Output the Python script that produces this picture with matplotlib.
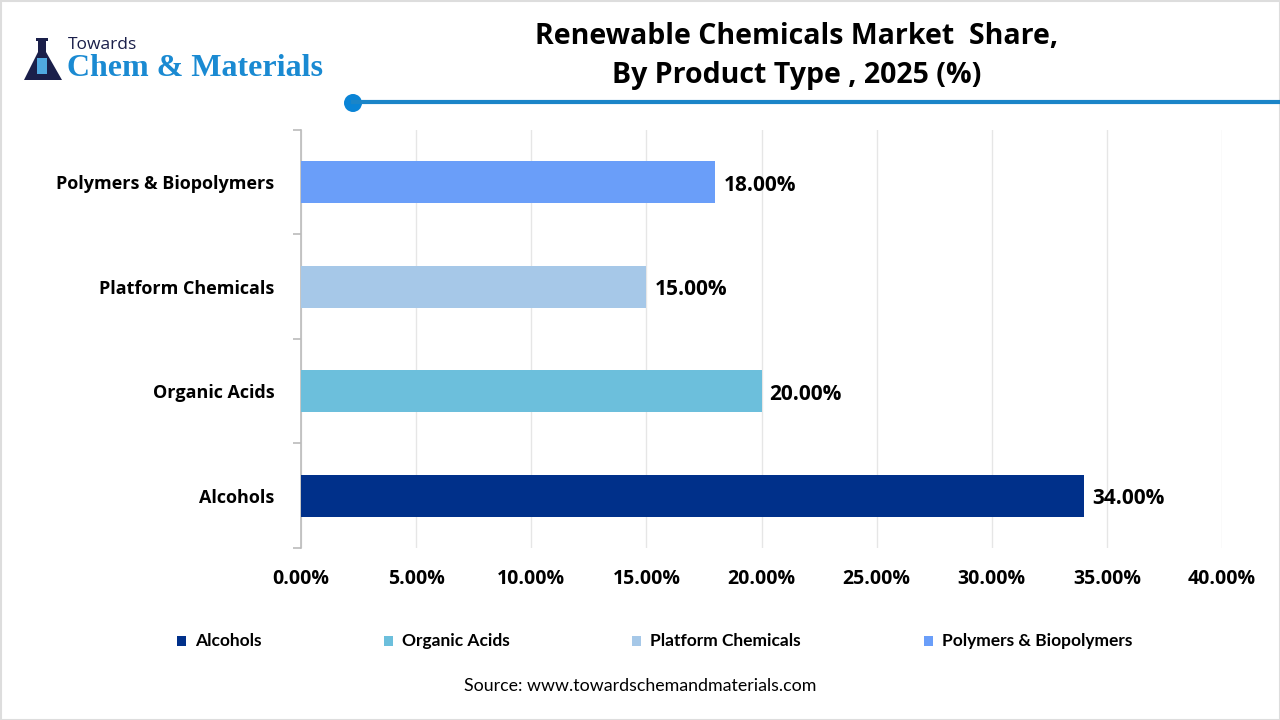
import matplotlib
matplotlib.use("Agg")
import matplotlib.pyplot as plt
from matplotlib.patches import Rectangle, Ellipse, Polygon
from matplotlib.lines import Line2D

categories = ["Alcohols", "Organic Acids", "Platform Chemicals", "Polymers & Biopolymers"]
values = [34.0, 20.0, 15.0, 18.0]
colors = ["#00308A", "#6CBFDC", "#A6C8E8", "#6A9EF9"]
xticks = [0, 5, 10, 15, 20, 25, 30, 35, 40]

fig = plt.figure(figsize=(12.8, 7.2), dpi=100)
fig.patch.set_facecolor("white")

ax = fig.add_axes([301/1280, 1-548/720, (1222-301)/1280, (548-130)/720])
ypos = list(range(len(categories)))
ax.barh(ypos, values, height=0.4, color=colors, zorder=3)
ax.set_xlim(0, 40)
ax.set_ylim(-0.5, len(categories)-0.5)
ax.set_xticks(xticks)
ax.set_xticklabels([f"{v:.2f}%" for v in xticks], fontsize=14, fontweight="bold",
                   family="Open Sans", color="black")
ax.set_yticks(ypos)
ax.set_yticklabels(categories, fontsize=13, fontweight="bold", family="Open Sans", color="black")
ax.tick_params(axis="y", which="major", length=0, pad=19)
ax.tick_params(axis="x", length=0, pad=15)
ax.set_yticks([y - 0.5 for y in range(len(categories)+1)], minor=True)
ax.tick_params(axis="y", which="minor", length=6, color="#BBBBBB", width=1.2)
ax.grid(axis="x", color="#E6E6E6", linewidth=1, zorder=0)
for s in ["top", "right", "bottom"]:
    ax.spines[s].set_visible(False)
ax.spines["left"].set_color("#BBBBBB")
ax.spines["left"].set_linewidth(1.2)
for y, v in zip(ypos, values):
    ax.text(v + 0.35, y - 0.03, f"{v:.2f}%", va="center", ha="left", fontsize=15,
            fontweight="bold", family="Open Sans", color="black")

# Title
fig.text(797/1280, 1-36/720, "Renewable Chemicals Market  Share,", ha="center", va="center",
         fontsize=20.5, fontweight="bold", family="Open Sans", color="black")
fig.text(797/1280, 1-75/720, "By Product Type , 2025 (%)", ha="center", va="center",
         fontsize=20.5, fontweight="bold", family="Open Sans", color="black")

# header line with dot
fig.add_artist(Line2D([353/1280, 1.0], [1-102/720, 1-102/720], color="#1B85C8", linewidth=3))
fig.add_artist(Ellipse((353/1280, 1-103/720), 18/1280, 18/720, transform=fig.transFigure,
                       facecolor="#0A84D6", edgecolor="none"))

# Logo
fig.text(68/1280, 1-45/720, "Towards", ha="left", va="center", fontsize=12.5,
         family="Open Sans", color="#1A1F4A")
fig.text(67/1280, 1-69/720, "Chem & Materials", ha="left", va="center", fontsize=23,
         fontweight="bold", family="Liberation Serif", color="#1A8AD2")
fig.add_artist(Polygon([(38/1280, 1-52/720), (46/1280, 1-52/720), (62/1280, 1-80/720),
                        (24/1280, 1-80/720)], closed=True, transform=fig.transFigure,
                       facecolor="#1A1F4A", edgecolor="none"))
fig.add_artist(Rectangle((38/1280, 1-52/720), 8/1280, 12/720, transform=fig.transFigure,
                         facecolor="#1A1F4A", edgecolor="none"))
fig.add_artist(Rectangle((36/1280, 1-41/720), 12/1280, 3/720, transform=fig.transFigure,
                         facecolor="#1A1F4A", edgecolor="none"))
fig.add_artist(Rectangle((37/1280, 1-74/720), 10/1280, 16/720, transform=fig.transFigure,
                         facecolor="#4FA8E0", edgecolor="none"))

# Legend
leg_x = [181, 388, 636, 928]
for lx, c, name in zip(leg_x, colors, categories):
    fig.add_artist(Rectangle(((lx-4)/1280, 1-646/720), 9/1280, 10/720,
                             transform=fig.transFigure, facecolor=c, edgecolor="none"))
    fig.text((lx+14)/1280, 1-641/720, name, ha="left", va="center", fontsize=12.5,
             fontweight="bold", family="Lato", color="black")

fig.text(640/1280, 1-686/720, "Source: www.towardschemandmaterials.com", ha="center",
         va="center", fontsize=12.8, family="Lato", color="black")

# border
fig.add_artist(Rectangle((0.5/1280, 0.5/720), 1-1/1280, 1-1/720, transform=fig.transFigure,
                         facecolor="none", edgecolor="#DDDDDD", linewidth=1.5))

fig.savefig("out.png", dpi=100, facecolor="white")
